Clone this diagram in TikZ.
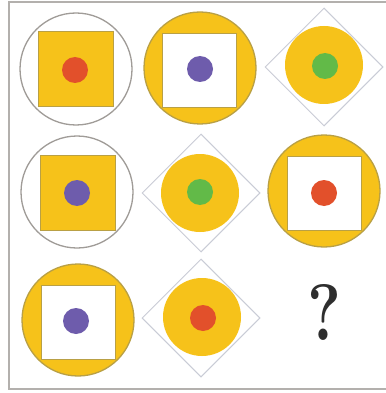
\documentclass[tikz,border=0pt]{standalone}
\usetikzlibrary{shapes.geometric}
\definecolor{gold}{HTML}{F6C21A}
\definecolor{goldedge}{HTML}{B9A045}
\definecolor{ringgrey}{HTML}{A09C98}
\definecolor{diagrey}{HTML}{C9CCD6}
\definecolor{dotred}{HTML}{E2502B}
\definecolor{dotpurple}{HTML}{6E5CAC}
\definecolor{dotgreen}{HTML}{62BA48}
\definecolor{qmark}{HTML}{2E2E2E}
\tikzset{
  x=1pt, y=-1pt,
  ring/.style={circle, draw=ringgrey, line width=1.3pt, minimum size=112pt, inner sep=0pt, fill=white},
  goldring/.style={circle, draw=goldedge, line width=1.3pt, minimum size=112pt, inner sep=0pt, fill=gold},
  goldsq/.style={rectangle, draw=goldedge, line width=0.6pt, minimum size=75pt, inner sep=0pt, fill=gold},
  whitesq/.style={rectangle, draw=goldedge, line width=1pt, minimum size=74pt, inner sep=0pt, fill=white},
  diam/.style={diamond, draw=diagrey, line width=1pt, minimum size=118pt, inner sep=0pt, fill=white},
  inner/.style={circle, minimum size=78pt, inner sep=0pt, fill=gold},
  dot/.style={circle, minimum size=26pt, inner sep=0pt, fill=#1},
  frame/.style={draw=ringgrey!80, line width=1.3pt}
}
\begin{document}
\begin{tikzpicture}
\useasboundingbox (0,0) rectangle (385,393);
\fill[white] (0,0) rectangle (385,393);
\coordinate (fa) at (9,2);
\coordinate (fb) at (390,389);
\draw[frame] (fa) rectangle (fb);
% row 1
\node[ring] (c11) at (76,69) {};
\node[goldsq] (s11) at (76,69) {};
\node[dot=dotred] (d11) at (75,70) {};
\node[goldring] (c12) at (200,68) {};
\node[whitesq] (s12) at (199,71) {};
\node[dot=dotpurple] (d12) at (200,69) {};
\node[diam] (q13) at (324,67) {};
\node[inner] (i13) at (324,65) {};
\node[dot=dotgreen] (d13) at (325,66) {};
% row 2
\node[ring] (c21) at (77,192) {};
\node[goldsq] (s21) at (78,193) {};
\node[dot=dotpurple] (d21) at (77,193) {};
\node[diam] (q22) at (201,193) {};
\node[inner] (i22) at (200,193) {};
\node[dot=dotgreen] (d22) at (200,192) {};
\node[goldring] (c23) at (324,191) {};
\node[whitesq] (s23) at (324,193) {};
\node[dot=dotred] (d23) at (324,193) {};
% row 3
\node[goldring] (c31) at (78,320) {};
\node[whitesq] (s31) at (78,322) {};
\node[dot=dotpurple] (d31) at (76,321) {};
\node[diam] (q32) at (201,318) {};
\node[inner] (i32) at (202,317) {};
\node[dot=dotred] (d32) at (203,318) {};
\node[text=qmark, font=\fontsize{80}{80}\selectfont\bfseries, inner sep=0pt, xscale=0.8] (qm) at (324,312) {?};
\end{tikzpicture}
\end{document}
